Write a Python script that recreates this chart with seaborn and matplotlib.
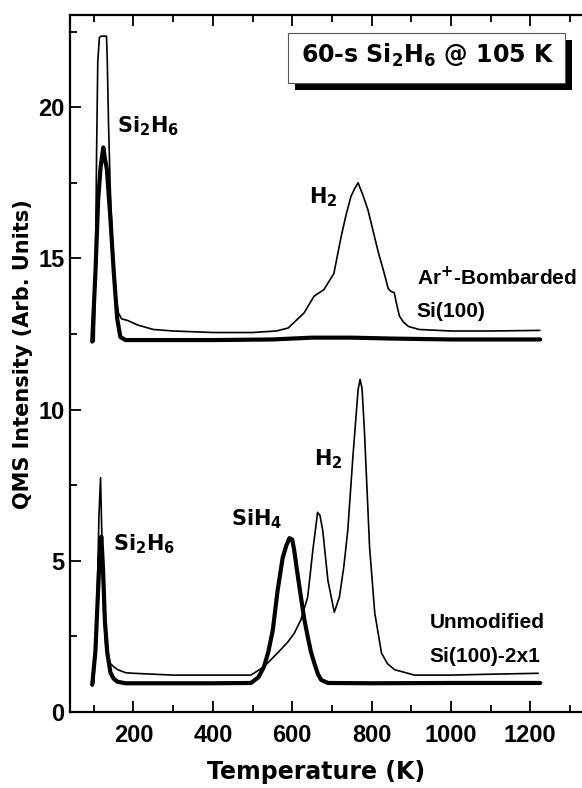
import numpy as np
import pandas as pd
import matplotlib
matplotlib.use("Agg")
import matplotlib.pyplot as plt
from matplotlib import font_manager
from matplotlib.patches import Rectangle
from matplotlib.ticker import MultipleLocator
import seaborn as sns

# ---------------- data ----------------
# Ar+-bombarded Si(100): H2 channel (thin line)
ar_h2_T = [101, 104, 107, 110, 114, 118, 132, 134, 137, 141, 146, 150, 156, 162, 170,
           185, 210, 250, 300, 400, 500, 560, 590, 610, 630, 655, 680, 705, 723, 735,
           748, 757, 766, 778, 791, 804, 817, 830, 842, 850, 857, 863, 870, 880, 893,
           920, 1000, 1100, 1224]
ar_h2_V = [12.25, 14.5, 18.5, 21.5, 22.3, 22.35, 22.35, 21.5, 19.5, 17.5, 15.8, 14.8, 13.7, 13.2, 13.0,
           12.95, 12.8, 12.65, 12.6, 12.55, 12.55, 12.6, 12.7, 12.95, 13.2, 13.75, 13.97, 14.5, 15.7, 16.4,
           17.05, 17.3, 17.5, 17.1, 16.6, 15.9, 15.2, 14.6, 14.0, 13.9, 13.87, 13.5, 13.1, 12.9, 12.75,
           12.65, 12.6, 12.6, 12.62]

# Ar+-bombarded Si(100): Si2H6 channel (thick line)
ar_si_T = [96, 104, 111, 117, 121, 124, 128, 133, 137, 142, 150, 159, 167, 180, 250, 400,
           550, 650, 750, 850, 1000, 1225]
ar_si_V = [12.25, 14.5, 16.95, 18.0, 18.4, 18.67, 18.3, 17.95, 17.2, 16.3, 14.6, 13.0, 12.4, 12.3, 12.3, 12.3,
           12.32, 12.38, 12.38, 12.35, 12.32, 12.32]

# Unmodified Si(100)-2x1: H2 channel (thin line)
un_h2_T = [100, 108, 113, 117, 120, 124, 130, 136, 142, 150, 160, 180, 200, 300, 400, 496,
           529, 563, 588, 605, 622, 639, 652, 664, 670, 677, 690, 706, 719, 730, 740, 753,
           766, 771, 776, 782, 795, 808, 825, 840, 858, 908, 1000, 1100, 1220]
un_h2_V = [0.96, 3.5, 6.5, 7.75, 6.0, 3.5, 2.2, 1.8, 1.6, 1.5, 1.4, 1.3, 1.28, 1.22, 1.22, 1.22,
           1.5, 1.95, 2.3, 2.6, 3.05, 3.8, 5.35, 6.6, 6.5, 6.0, 4.35, 3.3, 3.8, 4.8, 6.0, 8.45,
           10.65, 11.0, 10.7, 9.3, 5.45, 3.28, 1.95, 1.6, 1.4, 1.22, 1.22, 1.25, 1.28]

# Unmodified Si(100)-2x1: Si2H6 / SiH4 channel (thick line)
un_si_T = [96, 104, 110, 115, 119, 123, 128, 134, 142, 150, 160, 180, 300, 400, 496, 515,
           529, 540, 551, 563, 576, 585, 593, 600, 605, 613, 622, 630, 639, 647, 656, 665,
           673, 690, 800, 1000, 1225]
un_si_V = [0.9, 2.0, 3.8, 5.2, 5.8, 4.8, 3.0, 1.95, 1.3, 1.1, 1.0, 0.95, 0.95, 0.95, 0.96, 1.15,
           1.5, 2.0, 2.7, 4.0, 5.1, 5.5, 5.75, 5.7, 5.35, 4.6, 3.8, 3.1, 2.5, 2.0, 1.6, 1.25,
           1.06, 0.96, 0.95, 0.96, 0.96]

x_ticks = [200, 400, 600, 800, 1000, 1200]
y_ticks = [0, 5, 10, 15, 20]

# ---------------- style ----------------
sns.set_style("ticks")
names = {f.name for f in font_manager.fontManager.ttflist}
if "Liberation Sans Narrow" in names:
    narrow, tick_fs, side_fs = "Liberation Sans Narrow", 18, 17
else:
    narrow, tick_fs, side_fs = "Liberation Sans", 17, 15
plt.rcParams["font.family"] = ["DejaVu Sans"]
plt.rcParams["mathtext.fontset"] = "dejavusans"
for k in ["text.color", "axes.labelcolor", "xtick.color", "ytick.color", "axes.edgecolor"]:
    plt.rcParams[k] = "black"

W, H = 582.0, 788.0
fig = plt.figure(figsize=(5.82, 7.88), dpi=100)
ax_w = 1 - 70 / W + 0.01
ax = fig.add_axes([70 / W, 1 - 712 / H, ax_w, (712 - 15) / H])

series = [
    (ar_h2_T, ar_h2_V, 1.2),
    (ar_si_T, ar_si_V, 3.0),
    (un_h2_T, un_h2_V, 1.2),
    (un_si_T, un_si_V, 3.0),
]
for T, V, lw in series:
    df = pd.DataFrame({"T": T, "V": V})
    sns.lineplot(data=df, x="T", y="V", ax=ax, color="black", lw=lw,
                 estimator=None, sort=False)

ax.set_xlim(40, 1345)
ax.set_ylim(0, 23.05)
ax.set_xticks(x_ticks)
ax.set_yticks(y_ticks)
ax.xaxis.set_minor_locator(MultipleLocator(100))
ax.yaxis.set_minor_locator(MultipleLocator(2.5))
ax.tick_params(which="both", direction="in", top=True, right=False, width=1.3, colors="black")
ax.tick_params(which="major", length=8)
ax.tick_params(which="minor", length=5)
ax.tick_params(axis="x", which="major", pad=9)
ax.tick_params(axis="y", which="major", pad=4)
for lab in ax.get_xticklabels() + ax.get_yticklabels():
    lab.set_fontfamily(narrow)
    lab.set_fontweight("bold")
    lab.set_fontsize(tick_fs)
for s in ["left", "bottom", "top"]:
    ax.spines[s].set_linewidth(1.6)
    ax.spines[s].set_color("black")
ax.spines["right"].set_visible(False)

ax_wpx = ax_w * W
ax.set_xlabel("Temperature (K)", fontsize=17, fontweight="bold")
ax.set_ylabel("QMS Intensity (Arb. Units)", fontsize=15, fontweight="bold")
ax.xaxis.set_label_coords((316 - 70) / ax_wpx, (712 - 772) / 697)
ax.yaxis.set_label_coords((23 - 70) / ax_wpx, (712 - 354) / 697)
ax.xaxis.label.set_va("center")
ax.yaxis.label.set_va("center")

# ---------------- annotations ----------------
lab_kw = dict(fontsize=15, fontweight="bold", ha="left", va="baseline", color="black")
ax.text(159, 19.17, r"Si$_\mathbf{2}$H$_\mathbf{6}$", **lab_kw)
ax.text(642, 16.83, r"H$_\mathbf{2}$", **lab_kw)
ax.text(446, 6.18, r"SiH$_\mathbf{4}$", **lab_kw)
ax.text(149, 5.36, r"Si$_\mathbf{2}$H$_\mathbf{6}$", **lab_kw)
ax.text(654, 8.17, r"H$_\mathbf{2}$", **lab_kw)

nar_kw = dict(fontsize=side_fs, fontweight="bold", family=narrow, ha="left", va="baseline",
              color="black")
ax.text(914, 14.12, r"Ar$^{\mathbf{+}}$-Bombarded", **nar_kw)
ax.text(914, 13.06, "Si(100)", **nar_kw)
ax.text(947, 2.78, "Unmodified", **nar_kw)
ax.text(947, 1.65, "Si(100)-2x1", **nar_kw)

# title box with drop shadow (figure pixel coordinates)
def fbox(x0, y0, x1, y1):
    return (x0 / W, 1 - y1 / H), (x1 - x0) / W, (y1 - y0) / H
xy, w, h = fbox(295, 40, 572, 90)
fig.patches.append(Rectangle(xy, w, h, transform=fig.transFigure, facecolor="black",
                             edgecolor="none", zorder=5))
xy, w, h = fbox(288, 33, 565, 83)
fig.patches.append(Rectangle(xy, w, h, transform=fig.transFigure, facecolor="white",
                             edgecolor="#555555", lw=0.8, zorder=6))
fig.text(427.5 / W, 1 - 63 / H, r"60-s Si$_\mathbf{2}$H$_\mathbf{6}$ @ 105 K",
         fontsize=17, fontweight="bold", ha="center", va="baseline", zorder=7, color="black")

fig.savefig("out.png", dpi=100)
